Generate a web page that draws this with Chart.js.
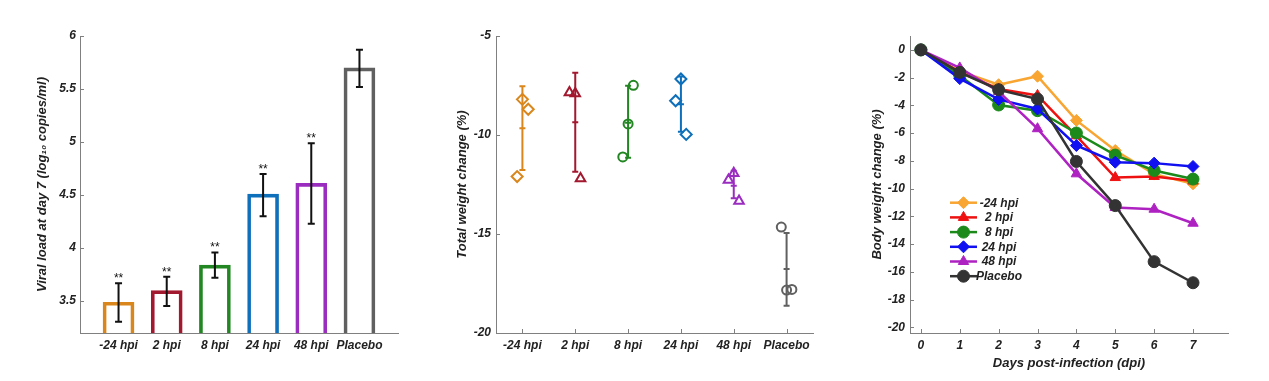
<!DOCTYPE html>
<html><head><meta charset="utf-8">
<script src="https://cdn.jsdelivr.net/npm/chart.js@4.4.1/dist/chart.umd.min.js"></script>
<style>
html,body{margin:0;padding:0;background:#fff;}
body{width:1269px;height:381px;position:relative;overflow:hidden;}
.box{position:absolute;top:0;width:423px;height:381px;}
canvas{display:block;}
</style></head><body>
<div class="box" style="left:0"><canvas id="c1" width="423" height="381"></canvas></div>
<div class="box" style="left:423px"><canvas id="c2" width="423" height="381"></canvas></div>
<div class="box" style="left:846px"><canvas id="c3" width="423" height="381"></canvas></div>
<script>
// ---------- DATA ----------
const groups = ['-24 hpi', '2 hpi', '8 hpi', '24 hpi', '48 hpi', 'Placebo'];

// Panel 1: viral load at day 7
const viralLoad    = [3.49, 3.60, 3.84, 4.51, 4.61, 5.70];
const viralErrHigh = [3.67, 3.73, 3.96, 4.70, 4.99, 5.87];
const viralErrLow  = [3.305, 3.455, 3.72, 4.30, 4.23, 5.52];
const viralSig     = ['**', '**', '**', '**', '**', ''];
const viralTicks   = [3.5, 4, 4.5, 5, 5.5, 6];
const viralMin = 3.2, viralMax = 6;

// Panel 2: total weight change, individual animals
const weightPoints = [
  [-8.2, -8.7, -12.1],
  [-7.85, -7.9, -12.2],
  [-7.49, -9.44, -11.11],
  [-7.17, -8.27, -9.97],
  [-11.93, -12.27, -13.33],
  [-14.65, -17.83, -17.8]
];
const weightJitter = [
  [0, 0.11, -0.1],
  [-0.11, 0, 0.1],
  [0.1, 0, -0.1],
  [0, -0.1, 0.1],
  [0, -0.1, 0.1],
  [-0.1, 0, 0.1]
];
const weightMean    = [-9.66, -9.36, -9.38, -8.45, -12.56, -16.77];
const weightErrHigh = [-7.54, -6.85, -7.51, -7.05, -11.8, -14.95];
const weightErrLow  = [-11.77, -11.85, -11.15, -9.83, -13.2, -18.62];
const weightTicks   = [-5, -10, -15, -20];

// Panel 3: body weight change over time
const days = [0, 1, 2, 3, 4, 5, 6, 7];
const bwM24     = [0, -1.54, -2.51, -1.90, -5.08, -7.25, -8.95, -9.65];
const bw2       = [0, -1.60, -2.82, -3.28, -6.19, -9.20, -9.12, -9.45];
const bw8       = [0, -1.85, -3.97, -4.38, -5.99, -7.58, -8.69, -9.31];
const bw24      = [0, -2.07, -3.57, -4.26, -6.89, -8.09, -8.16, -8.40];
const bw48      = [0, -1.30, -3.00, -5.68, -8.93, -11.36, -11.48, -12.49];
const bwPlacebo = [0, -1.62, -2.87, -3.54, -8.04, -11.22, -15.26, -16.78];
const bwTicks   = [0, -2, -4, -6, -8, -10, -12, -14, -16, -18, -20];

// ---------- STYLE ----------
const FONT = "'Liberation Sans', Arial, sans-serif";
const AXIS = '#808080';
const TXT = '#222222';
const colors1 = ['#D9861C', '#A2182F', '#228622', '#0E6FBA', '#9A2CC0', '#606060'];
const colors3 = ['#F8A532', '#EE1111', '#1B8A1B', '#1010F0', '#AE22C2', '#333333'];
const markers2 = ['rectRot', 'triangle', 'circle', 'rectRot', 'triangle', 'circle'];
const radii2 = [5.5, 5.5, 4.5, 5.5, 5.5, 4.5];
const markers3 = ['rectRot', 'triangle', 'circle', 'rectRot', 'triangle', 'circle'];

Chart.defaults.font.family = FONT;
Chart.defaults.color = TXT;
const tickFont = {family: FONT, size: 12, weight: 'bold', style: 'italic'};
const titleFont = {family: FONT, size: 13, weight: 'bold', style: 'italic'};

const inwardTicks = {
  id: 'inwardTicks',
  beforeDatasetsDraw(chart, args, opts) {
    const ctx = chart.ctx, a = chart.chartArea;
    ctx.save();
    ctx.strokeStyle = AXIS; ctx.lineWidth = 1;
    if (opts.y) chart.scales.y.ticks.forEach(t => {
      const p = Math.round(chart.scales.y.getPixelForValue(t.value)) + 0.5;
      ctx.beginPath(); ctx.moveTo(a.left, p); ctx.lineTo(a.left + 4, p); ctx.stroke();
    });
    if (opts.x) chart.scales.x.ticks.forEach(t => {
      const p = Math.round(chart.scales.x.getPixelForValue(t.value)) + 0.5;
      ctx.beginPath(); ctx.moveTo(p, a.bottom); ctx.lineTo(p, a.bottom - 4); ctx.stroke();
    });
    ctx.restore();
  }
};

function baseScales(o) {
  return {
    x: {
      type: 'linear', min: o.xmin, max: o.xmax, offset: false,
      afterBuildTicks: s => { s.ticks = o.xticks.map(v => ({value: v})); },
      afterFit: s => { s.height = o.xh; },
      grid: {display: false, drawTicks: false},
      border: {display: true, color: AXIS, width: 1},
      ticks: {font: tickFont, color: TXT, padding: 5, autoSkip: false, maxRotation: 0,
              callback: o.xcb},
      title: o.xtitle ? {display: true, text: o.xtitle, font: titleFont, color: TXT,
              padding: {top: 0, bottom: 10}} : {display: false}
    },
    y: {
      type: 'linear', min: o.ymin, max: o.ymax, beginAtZero: false,
      afterBuildTicks: s => { s.ticks = o.yticks.map(v => ({value: v})); },
      afterFit: s => { s.width = o.yw; },
      grid: {display: false, drawTicks: false},
      border: {display: true, color: AXIS, width: 1},
      ticks: {font: tickFont, color: TXT, padding: o.ypad, callback: v => String(v)},
      title: {display: true, text: o.ytitle, font: titleFont, color: TXT,
              padding: {top: o.ytitlePad, bottom: 0}}
    }
  };
}

// ---------- PANEL 1 ----------
const errBars1 = {
  id: 'errBars1',
  afterDatasetsDraw(chart) {
    const ctx = chart.ctx, xs = chart.scales.x, ys = chart.scales.y;
    ctx.save();
    ctx.strokeStyle = '#111'; ctx.lineWidth = 2;
    viralLoad.forEach((v, i) => {
      const x = xs.getPixelForValue(i + 1);
      const yt = ys.getPixelForValue(viralErrHigh[i]);
      const yb = ys.getPixelForValue(viralErrLow[i]);
      ctx.beginPath();
      ctx.moveTo(x, yt); ctx.lineTo(x, yb);
      ctx.moveTo(x - 3.5, yt); ctx.lineTo(x + 3.5, yt);
      ctx.moveTo(x - 3.5, yb); ctx.lineTo(x + 3.5, yb);
      ctx.stroke();
      if (viralSig[i]) {
        ctx.fillStyle = '#111';
        ctx.font = '12px ' + FONT;
        ctx.textAlign = 'center'; ctx.textBaseline = 'alphabetic';
        ctx.fillText(viralSig[i], x, yt - 1);
      }
    });
    ctx.restore();
  }
};

new Chart(document.getElementById('c1'), {
  type: 'bar',
  data: {
    datasets: [{
      data: viralLoad.map((v, i) => ({x: i + 1, y: v})),
      base: viralMin,
      backgroundColor: 'rgba(255,255,255,0)',
      borderColor: colors1,
      borderWidth: 3,
      borderSkipped: 'start',
      barThickness: 31
    }]
  },
  options: {
    responsive: false, animation: false, devicePixelRatio: 1,
    layout: {padding: {left: 0, top: 36, right: 25, bottom: 0}},
    plugins: {legend: {display: false}, tooltip: {enabled: false},
              inwardTicks: {y: true, x: false}},
    scales: baseScales({
      xmin: 0.2, xmax: 6.8, xticks: groups.map((g, i) => i + 1), xh: 48,
      xcb: v => groups[v - 1],
      ymin: viralMin, ymax: viralMax, yticks: viralTicks, yw: 80, ypad: 4,
      ytitle: 'Viral load at day 7 (log\u2081\u2080 copies/ml)', ytitlePad: 35
    })
  },
  plugins: [inwardTicks, errBars1]
});

// ---------- PANEL 2 ----------
const errBars2 = {
  id: 'errBars2',
  beforeDatasetsDraw(chart) {
    const ctx = chart.ctx, xs = chart.scales.x, ys = chart.scales.y;
    ctx.save();
    ctx.lineWidth = 2;
    weightMean.forEach((m, i) => {
      const x = xs.getPixelForValue(i + 1);
      const yt = ys.getPixelForValue(weightErrHigh[i]);
      const yb = ys.getPixelForValue(weightErrLow[i]);
      const ym = ys.getPixelForValue(m);
      ctx.strokeStyle = colors1[i];
      ctx.beginPath();
      ctx.moveTo(x, yt); ctx.lineTo(x, yb);
      ctx.moveTo(x - 3, yt); ctx.lineTo(x + 3, yt);
      ctx.moveTo(x - 3, yb); ctx.lineTo(x + 3, yb);
      ctx.moveTo(x - 3, ym); ctx.lineTo(x + 3, ym);
      ctx.stroke();
    });
    ctx.restore();
  }
};

new Chart(document.getElementById('c2'), {
  type: 'scatter',
  data: {
    datasets: groups.map((g, i) => ({
      label: g,
      data: weightPoints[i].map((v, k) => ({x: i + 1 + weightJitter[i][k], y: v})),
      pointStyle: markers2[i],
      pointRadius: radii2[i],
      pointBorderWidth: 2,
      pointBorderColor: colors1[i],
      pointBackgroundColor: 'rgba(255,255,255,0)',
      showLine: false
    }))
  },
  options: {
    responsive: false, animation: false, devicePixelRatio: 1,
    layout: {padding: {left: 0, top: 36, right: 33, bottom: 0}},
    plugins: {legend: {display: false}, tooltip: {enabled: false},
              inwardTicks: {y: true, x: true}},
    scales: baseScales({
      xmin: 0.5, xmax: 6.5, xticks: groups.map((g, i) => i + 1), xh: 48,
      xcb: v => groups[v - 1],
      ymin: -20, ymax: -5, yticks: weightTicks, yw: 73, ypad: 5,
      ytitle: 'Total weight change (%)', ytitlePad: 32
    })
  },
  plugins: [inwardTicks, errBars2]
});

// ---------- PANEL 3 ----------
const series3 = [bwM24, bw2, bw8, bw24, bw48, bwPlacebo];
const legend3 = {
  id: 'legend3',
  afterDraw(chart) {
    const ctx = chart.ctx, a = chart.chartArea;
    ctx.save();
    groups.forEach((g, i) => {
      const y = a.top + 166.7 + 14.7 * i;
      const x0 = a.left + 40, x1 = a.left + 67;
      ctx.strokeStyle = colors3[i]; ctx.fillStyle = colors3[i];
      ctx.lineWidth = 2.5;
      ctx.beginPath(); ctx.moveTo(x0, y); ctx.lineTo(x1, y); ctx.stroke();
      ctx.lineWidth = 1;
      Chart.helpers.drawPoint(ctx, {pointStyle: markers3[i], radius: 6, rotation: 0, borderWidth: 1},
                              (x0 + x1) / 2, y);
      ctx.fillStyle = TXT;
      ctx.font = 'italic bold 12px ' + FONT;
      ctx.textAlign = 'center'; ctx.textBaseline = 'middle';
      ctx.fillText(g, a.left + 89, y + 0.5);
    });
    ctx.restore();
  }
};

new Chart(document.getElementById('c3'), {
  type: 'line',
  data: {
    datasets: groups.map((g, i) => ({
      label: g,
      data: days.map((d, k) => ({x: d, y: series3[i][k]})),
      borderColor: colors3[i],
      backgroundColor: colors3[i],
      borderWidth: 2.5,
      pointStyle: markers3[i],
      pointRadius: 6,
      pointBorderWidth: 1,
      pointBackgroundColor: colors3[i],
      pointBorderColor: colors3[i],
      tension: 0,
      fill: false,
      order: groups.length - 1 - i
    }))
  },
  options: {
    responsive: false, animation: false, devicePixelRatio: 1,
    layout: {padding: {left: 0, top: 36, right: 41, bottom: 0}},
    plugins: {legend: {display: false}, tooltip: {enabled: false},
              inwardTicks: {y: true, x: true}},
    scales: baseScales({
      xmin: -0.28, xmax: 7.9, xticks: days, xh: 48,
      xcb: v => String(v), xtitle: 'Days post-infection (dpi)',
      ymin: -20.4, ymax: 1, yticks: bwTicks, yw: 64, ypad: 5,
      ytitle: 'Body weight change (%)', ytitlePad: 24
    })
  },
  plugins: [inwardTicks, legend3]
});
</script>
</body></html>
